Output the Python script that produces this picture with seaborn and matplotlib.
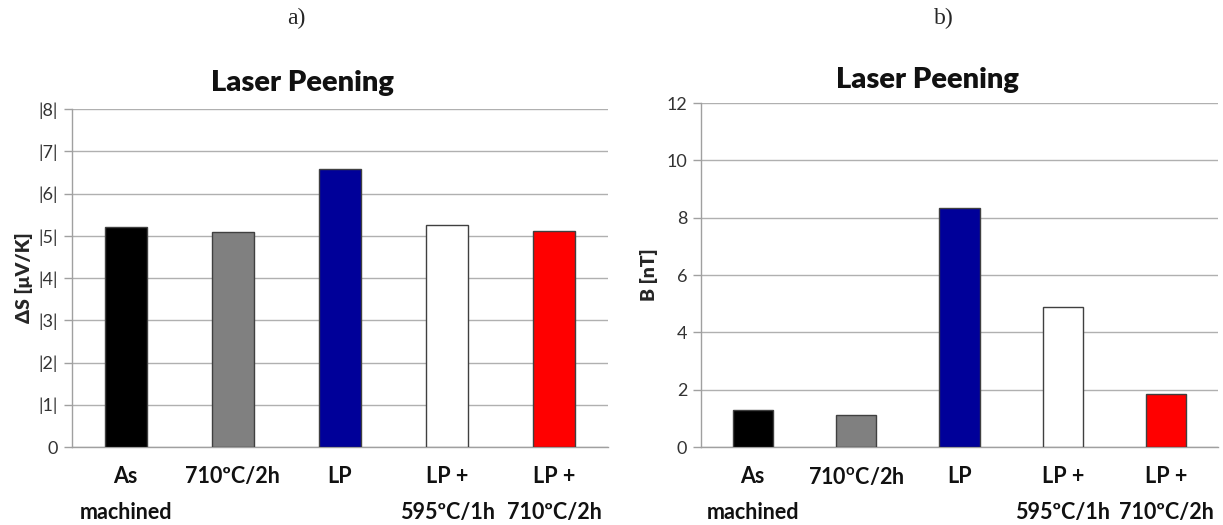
import matplotlib
matplotlib.use("Agg")
import matplotlib.pyplot as plt
import seaborn as sns
import pandas as pd

categories_a = ["As\nmachined", "710ºC/2h", "LP", "LP +\n595ºC/1h", "LP +\n710ºC/2h"]
categories_b = ["As\nmachined", "710$^{\\mathregular{o}}$C/2h", "LP", "LP +\n595ºC/1h", "LP +\n710ºC/2h"]
delta_s = [5.21, 5.08, 6.57, 5.25, 5.11]
b_field = [1.29, 1.12, 8.33, 4.88, 1.85]
bar_colors = ["#000000", "#808080", "#000099", "#ffffff", "#ff0000"]
yticks_a = [0, 1, 2, 3, 4, 5, 6, 7, 8]
yticklabels_a = ["0", "|1|", "|2|", "|3|", "|4|", "|5|", "|6|", "|7|", "|8|"]
yticks_b = [0, 2, 4, 6, 8, 10, 12]

sns.set_theme(style="white")
plt.rcParams["font.family"] = ["Lato", "DejaVu Sans"]

fig = plt.figure(figsize=(12.23, 5.25), dpi=100)
ax1 = fig.add_axes([72/1223, 1-447/525, (608-72)/1223, (447-109)/525])
ax2 = fig.add_axes([701/1223, 1-447/525, (1218-701)/1223, (447-103)/525])

def draw(ax, cats, vals, ymax, yticks, ylabels, ylabel, lpad):
    df = pd.DataFrame({"cat": cats, "val": vals})
    sns.barplot(data=df, x="cat", y="val", hue="cat", palette=bar_colors,
                saturation=1, legend=False, width=0.39, edgecolor="#404040",
                linewidth=1.0, ax=ax, zorder=3)
    ax.set_ylim(0, ymax)
    ax.set_xlim(-0.5, len(cats) - 0.5)
    ax.set_yticks(yticks)
    ax.set_yticklabels(ylabels, fontsize=13, color="#333333")
    ax.yaxis.grid(True, color="#b0b0b0", linewidth=1.0, zorder=0)
    ax.xaxis.grid(False)
    for s in ["top", "right"]:
        ax.spines[s].set_visible(False)
    for s in ["left", "bottom"]:
        ax.spines[s].set_color("#a0a0a0")
        ax.spines[s].set_linewidth(1.0)
    ax.tick_params(axis="y", length=6, color="#a0a0a0", width=1.0, pad=4, left=True)
    ax.tick_params(axis="x", length=0, pad=14)
    ax.set_xlabel("")
    ax.set_ylabel(ylabel, fontsize=14, fontweight="heavy", labelpad=lpad)
    for lab in ax.get_xticklabels():
        lab.set_fontsize(15.5)
        lab.set_fontweight("bold")
        lab.set_color("#111111")
        lab.set_linespacing(1.85)
        lab.set_verticalalignment("top")

draw(ax1, categories_a, delta_s, 8, yticks_a, yticklabels_a, "ΔS [μV/K]", 4)
draw(ax2, categories_b, b_field, 12, yticks_b, [str(t) for t in yticks_b], "B [nT]", 6)

fig.text(302/1223, 1-83/525, "Laser Peening", ha="center", va="center",
         fontsize=21, fontweight="heavy", color="#111111")
fig.text(927/1223, 1-80/525, "Laser Peening", ha="center", va="center",
         fontsize=21, fontweight="heavy", color="#111111")
fig.text(296/1223, 1-18/525, "a)", ha="center", va="center",
         fontsize=17, family=["Liberation Serif", "DejaVu Serif"])
fig.text(944/1223, 1-18/525, "b)", ha="center", va="center",
         fontsize=17, family=["Liberation Serif", "DejaVu Serif"])

fig.savefig("out.png", dpi=100, facecolor="white")
